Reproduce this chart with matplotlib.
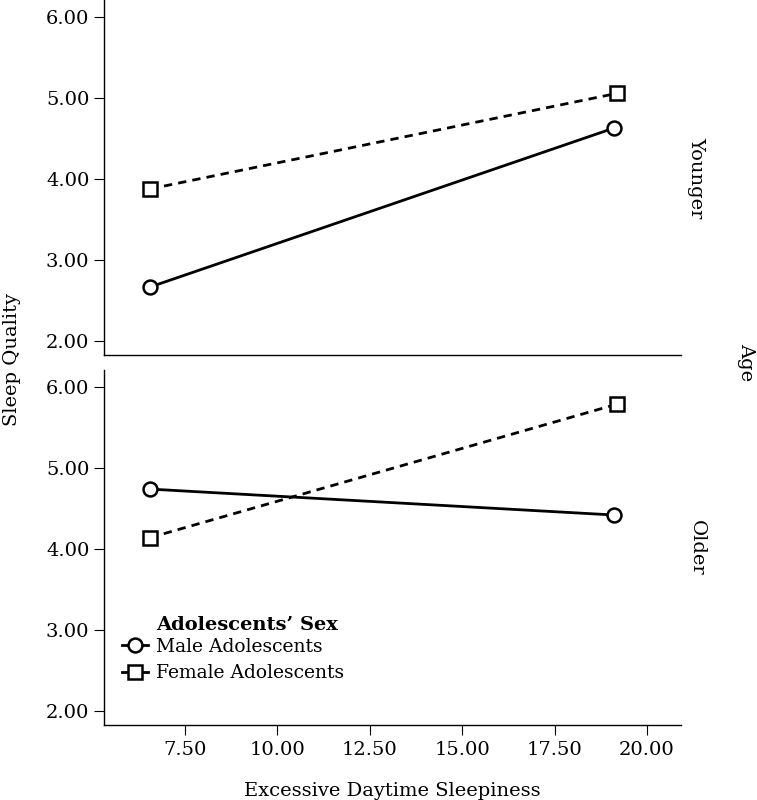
#!/usr/bin/env python3
import matplotlib
matplotlib.use('Agg')
import matplotlib.pyplot as plt
from matplotlib.lines import Line2D

# values
eds_levels = [6.55, 19.1]
male_younger = [2.67, 4.63]
female_younger = [3.88, 5.06]
male_older = [4.74, 4.42]
female_older = [4.14, 5.79]
# the squares sit a bit to the right of the circles
eds_female = [6.55, 19.2]

y_ticks = [2.0, 3.0, 4.0, 5.0, 6.0]
x_ticks = [7.5, 10.0, 12.5, 15.0, 17.5, 20.0]

plt.rcParams['font.family'] = ['DejaVu Serif']
plt.rcParams['font.size'] = 13

LW = 2.0
fig = plt.figure(figsize=(7.57, 8), dpi=100)
ax_top = fig.add_axes([0.1374, 0.556, 0.7622, 0.444])
ax_bot = fig.add_axes([0.1374, 0.094, 0.7622, 0.4435])

panels = [
    (ax_top, male_younger, female_younger, 'Younger'),
    (ax_bot, male_older, female_older, 'Older'),
]

for ax, male, female, label in panels:
    ax.plot(eds_levels, male, color='black', lw=LW, ls='-', marker='o',
            ms=10, mfc='white', mec='black', mew=1.8, zorder=3)
    ax.plot(eds_female, female, color='black', lw=LW, ls=(0, (3, 2.2)), marker='s',
            ms=10, mfc='white', mec='black', mew=1.8, zorder=3)
    ax.set_xlim(5.31, 20.92)
    ax.set_ylim(1.83, 6.21)
    ax.set_yticks(y_ticks)
    ax.set_yticklabels([f'{v:.2f}' for v in y_ticks])
    for side in ['top', 'right']:
        ax.spines[side].set_visible(False)
    ax.spines['left'].set_linewidth(1.0)
    ax.spines['bottom'].set_linewidth(1.0)
    ax.tick_params(axis='both', direction='out', length=7, width=0.8, labelsize=14)
    ax.text(1.027, 0.5, label, transform=ax.transAxes, rotation=-90,
            ha='center', va='center', fontsize=14)

ax_top.set_xticks([])
ax_bot.set_xticks(x_ticks)
ax_bot.set_xticklabels([f'{v:.2f}' for v in x_ticks])
ax_bot.tick_params(axis='x', pad=5)
ax_bot.set_xlabel('Excessive Daytime Sleepiness', fontsize=14, labelpad=16)

fig.text(0.016, 0.55, 'Sleep Quality', rotation=90, ha='center', va='center', fontsize=14)
fig.text(0.985, 0.548, 'Age', rotation=-90, ha='center', va='center', fontsize=14)

handles = [
    Line2D([], [], color='black', lw=LW, ls='-', marker='o', ms=10,
           mfc='white', mec='black', mew=1.8),
    Line2D([], [], color='black', lw=LW, ls='-', marker='s', ms=10,
           mfc='white', mec='black', mew=1.8),
]
leg = ax_bot.legend(handles, ['Male Adolescents', 'Female Adolescents'],
                    loc='lower left', bbox_to_anchor=(0.008, 0.083),
                    frameon=False, fontsize=13.5,
                    handlelength=1.4, handletextpad=0.45, labelspacing=0.45,
                    borderpad=0.2)

# title sits above the labels, aligned with their left edge
fig.canvas.draw()
renderer = fig.canvas.get_renderer()
first = leg.get_texts()[0].get_window_extent(renderer)
inv = ax_bot.transAxes.inverted()
tx, ty = inv.transform((first.x0, first.y1))
ax_bot.text(tx, ty + 0.012, 'Adolescents\u2019 Sex', transform=ax_bot.transAxes,
            ha='left', va='bottom', fontsize=14, fontweight='bold')

fig.savefig('out.png', dpi=100)
